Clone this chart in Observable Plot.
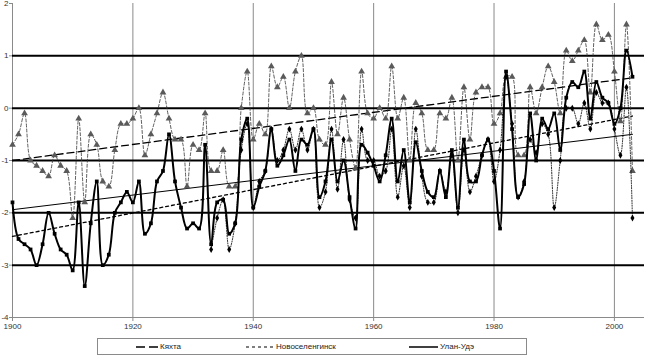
<!DOCTYPE html>
<html><head><meta charset="utf-8">
<script src="https://cdn.jsdelivr.net/npm/d3@7"></script>
<script src="https://cdn.jsdelivr.net/npm/@observablehq/plot@0.6"></script>
<style>
body{margin:0;background:#fff;font-family:"Liberation Sans",Arial,sans-serif;}
#wrap{position:relative;width:645px;height:358px;overflow:hidden;}
#legend{position:absolute;left:97px;top:338px;width:430px;height:17px;border:1px solid #8a8a8a;box-sizing:border-box;font-size:8px;color:#222;}
.item{position:absolute;top:0;height:15px;display:flex;align-items:center;gap:2px;white-space:nowrap;}
.item svg{display:block}
</style></head><body><div id="wrap"><div id="chart"></div><div id="legend"></div></div>
<script>
const startYear = 1900;
const nsStartYear = 1933;
const seriesNames = ["Кяхта", "Новоселенгинск", "Улан-Удэ"];
const xTicks = [1900, 1920, 1940, 1960, 1980, 2000];
const yTicks = [2, 1, 0, -1, -2, -3, -4];
const thickLines = [1, 0, -1, -2, -3];
const gridYears = [1920, 1940, 1960, 1980, 2000];

const kyakhta = [
 -0.7,-0.5,-0.1,-1.0,-1.1,-1.2,-1.3,-0.9,-1.1,-1.2,
 -2.1,-0.2,-1.8,-0.5,-0.7,-1.4,-1.5,-0.8,-0.3,-0.3,
 -0.2,0.0,-0.9,-0.5,-0.1,0.3,-0.2,-0.6,-0.6,-1.5,
 -0.7,-0.8,-0.1,-1.2,-1.2,-0.8,-1.5,-1.5,0.0,0.7,
 -0.6,-0.3,-0.5,0.8,0.4,0.6,0.0,0.7,1.0,-0.1,
 0.0,-0.6,-0.7,0.5,-0.5,0.2,-0.6,-1.15,0.7,-0.1,
 -0.2,0.0,-0.2,0.8,-0.2,0.2,-1.0,0.1,-0.1,-0.8,
 -0.8,-0.1,-0.2,0.2,-1.0,0.4,-0.6,0.3,0.4,0.4,
 -0.3,-0.1,0.6,0.6,-0.9,-0.9,0.4,-0.1,0.4,0.8,
 0.5,-0.1,1.1,0.9,1.1,1.3,0.3,1.6,1.3,1.4,
 0.7,-0.25,1.6,-1.2
];
const novoselenginsk = [
 -2.7,-2.1,-1.75,-2.7,-2.2,-0.8,-0.3,
 -1.9,-1.4,-1.2,-0.4,-1.0,-0.8,-0.4,-0.8,-0.4,-0.8,
 -0.4,-1.9,-1.6,-0.4,-1.55,-0.6,-1.75,-2.1,-0.4,-1.0,
 -1.0,-1.3,-1.2,-0.4,-1.7,-1.1,-1.9,-0.4,-1.3,-1.8,
 -1.8,-1.2,-1.6,-0.9,-2.0,-0.8,-1.6,-1.3,-0.9,-0.6,
 -1.4,-0.8,0.6,-0.3,-1.7,-1.4,-0.6,-0.85,-0.3,-0.5,
 -1.9,-1.0,0.0,0.0,-0.3,0.1,-0.4,0.3,0.1,0.1,
 -0.4,-0.9,0.4,-2.1
];
const ulanUde = [
 -1.8,-2.5,-2.6,-2.7,-3.0,-2.6,-2.0,-2.4,-2.7,-2.8,
 -3.1,-1.8,-3.4,-2.2,-1.4,-3.0,-2.8,-2.0,-1.8,-1.6,
 -1.8,-1.4,-2.4,-2.2,-1.4,-1.2,-0.5,-1.4,-1.9,-2.3,
 -2.2,-2.3,-0.7,-2.6,-1.8,-1.75,-2.4,-2.2,-0.6,-0.2,
 -1.9,-1.5,-1.2,-0.4,-1.1,-0.9,-0.6,-1.2,-0.6,-0.7,
 -0.4,-1.7,-1.4,-0.6,-1.4,-1.0,-1.7,-2.3,-0.7,-0.85,
 -1.1,-1.4,-0.9,-0.2,-1.4,-0.8,-1.8,-0.65,-1.2,-1.6,
 -1.7,-1.2,-1.7,-0.8,-1.9,-0.6,-1.4,-1.4,-0.9,-0.6,
 -1.2,-2.3,0.7,-0.4,-1.7,-1.45,-0.1,-1.0,-0.2,-0.4,
 -0.1,-0.8,0.2,0.5,0.4,0.7,-0.2,0.5,0.2,0.1,
 -0.3,0.0,1.1,0.6
];
// linear trend lines (start / end)
const trendYears = [1900, 2003];
const trendKyakhta = [-1.0, 0.58];
const trendNovoselenginsk = [-2.45, -0.15];
const trendUlanUde = [-1.94, -0.5];

const rows = (name, start, vals) => vals.map((v, i) => ({series: name, year: start + i, value: v}));
const ky = rows(seriesNames[0], startYear, kyakhta);
const ns = rows(seriesNames[1], nsStartYear, novoselenginsk);
const uu = rows(seriesNames[2], startYear, ulanUde);
const trend = (vals) => trendYears.map((y, i) => ({year: y, value: vals[i]}));

const fmt = d => String(d);
const chart = Plot.plot({
  width: 645, height: 336,
  marginLeft: 12, marginRight: 1, marginTop: 3, marginBottom: 19,
  x: {domain: [1900, 2005]},
  y: {domain: [-4, 2]},
  style: {fontFamily: "Liberation Sans, Arial, sans-serif", fontSize: "8px", background: "white", overflow: "visible"},
  marks: [
    Plot.ruleX(gridYears, {stroke: "#8a8a8a", strokeWidth: 1}),
    Plot.ruleX([1900], {stroke: "#8a8a8a", strokeWidth: 1}),
    Plot.ruleY([-4], {stroke: "#8a8a8a", strokeWidth: 1}),
    Plot.ruleY(thickLines, {stroke: "#000", strokeWidth: 2}),
    Plot.axisX({ticks: xTicks, tickFormat: fmt, tickSize: 4, tickPadding: 2, stroke: "#8a8a8a", fill: "#333", label: null}),
    Plot.axisY({ticks: yTicks, tickFormat: fmt, tickSize: 3, tickPadding: 1, stroke: "#8a8a8a", fill: "#333", label: null}),
    Plot.line(trend(trendKyakhta), {x: "year", y: "value", stroke: "#000", strokeWidth: 1.3, strokeDasharray: "7,4"}),
    Plot.line(trend(trendNovoselenginsk), {x: "year", y: "value", stroke: "#000", strokeWidth: 1.3, strokeDasharray: "3,3"}),
    Plot.line(trend(trendUlanUde), {x: "year", y: "value", stroke: "#000", strokeWidth: 1}),
    Plot.line(ky, {x: "year", y: "value", stroke: "#333", strokeWidth: 0.8, strokeDasharray: "3,2", curve: "catmull-rom"}),
    Plot.dot(ky, {x: "year", y: "value", symbol: "triangle", fill: "#5a5a5a", r: 2.5}),
    Plot.line(ns, {x: "year", y: "value", stroke: "#000", strokeWidth: 0.9, strokeDasharray: "1,1.5", curve: "catmull-rom"}),
    Plot.dot(ns, {x: "year", y: "value", symbol: "diamond", fill: "#000", r: 2.1}),
    Plot.line(uu, {x: "year", y: "value", stroke: "#000", strokeWidth: 2, curve: "catmull-rom"}),
    Plot.dot(uu, {x: "year", y: "value", symbol: "square", fill: "#000", r: 2.1})
  ]
});
document.getElementById("chart").appendChild(chart);

// legend
const legendItems = [
  {name: seriesNames[0], left: 38, w: 22, dash: "9,4", sw: 1.6},
  {name: seriesNames[1], left: 148, w: 28, dash: "3,3", sw: 1.2},
  {name: seriesNames[2], left: 311, w: 29, dash: null, sw: 1.5}
];
const legend = document.getElementById("legend");
for (const it of legendItems) {
  const div = document.createElement("div");
  div.className = "item";
  div.style.left = it.left + "px";
  div.innerHTML = `<svg width="${it.w}" height="6"><line x1="0" y1="3" x2="${it.w}" y2="3" stroke="#000" stroke-width="${it.sw}" ${it.dash ? `stroke-dasharray="${it.dash}"` : ""}/></svg><span>${it.name}</span>`;
  legend.appendChild(div);
}
</script></body></html>
